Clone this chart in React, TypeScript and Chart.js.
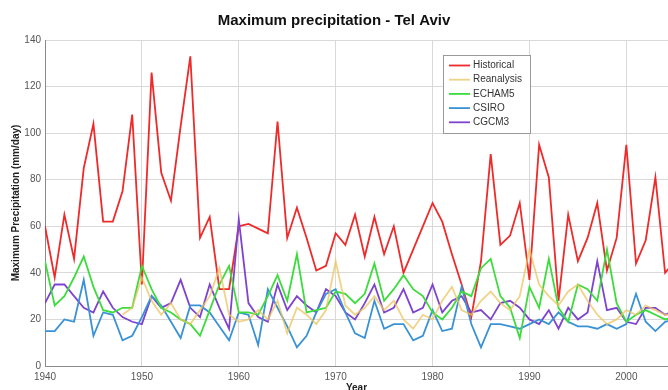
import React, { useEffect, useRef } from 'react';
import { Chart, registerables } from 'chart.js';

Chart.register(...registerables);

const years = [
  1940, 1941, 1942, 1943, 1944, 1945, 1946, 1947, 1948, 1949,
  1950, 1951, 1952, 1953, 1954, 1955, 1956, 1957, 1958, 1959,
  1960, 1961, 1962, 1963, 1964, 1965, 1966, 1967, 1968, 1969,
  1970, 1971, 1972, 1973, 1974, 1975, 1976, 1977, 1978, 1979,
  1980, 1981, 1982, 1983, 1984, 1985, 1986, 1987, 1988, 1989,
  1990, 1991, 1992, 1993, 1994, 1995, 1996, 1997, 1998, 1999,
  2000, 2001, 2002, 2003, 2004, 2005,
];

const historical = [
  60, 38, 65, 46, 85, 104, 62, 62, 75, 108,
  35, 126, 83, 71, 103, 133, 55, 64, 33, 33,
  60, 61, 59, 57, 105, 55, 68, 55, 41, 43,
  57, 52, 65, 47, 64, 48, 60, 40, 50, 60,
  70, 62, 48, 35, 21, 45, 91, 52, 56, 70,
  37, 95, 81, 28, 65, 45, 55, 70, 41, 55,
  95, 44, 54, 81, 40, 45,
];

const reanalysis = [
  null, null, null, null, null, null, null, null, 22, 25,
  38, 28, 22, 27, 20, 18, 24, 30, 42, 22,
  19, 20, 24, 20, 28, 14, 25, 22, 18, 24,
  45, 26, 22, 25, 30, 24, 28, 20, 16, 22,
  20, 28, 34, 24, 22, 28, 32, 27, 24, 30,
  50, 35, 30, 26, 32, 35, 28, 22, 18, 20,
  24, 22, 26, 24, 22, 22,
];

const echam5 = [
  45, 26, 30, 38, 47, 34, 24, 23, 25, 25,
  43, 33, 25, 23, 20, 18, 13, 24, 35, 43,
  23, 23, 22, 30, 39, 28, 48, 23, 24, 25,
  32, 31, 27, 31, 44, 28, 33, 39, 33, 30,
  23, 20, 25, 32, 30, 42, 46, 30, 25, 12,
  34, 25, 46, 25, 19, 35, 33, 28, 50, 27,
  19, 22, 24, 22, 20, 21,
];

const csiro = [
  15, 15, 20, 19, 37, 13, 23, 22, 11, 13,
  21, 30, 26, 19, 12, 26, 26, 23, 17, 11,
  23, 22, 9, 33, 25, 17, 8, 13, 23, 31,
  33, 23, 14, 12, 28, 16, 18, 18, 11, 13,
  24, 15, 16, 34, 18, 8, 18, 18, 17, 16,
  18, 20, 18, 23, 19, 17, 17, 16, 18, 16,
  18, 31, 19, 15, 19, 20,
];

const cgcm3 = [
  27, 35, 35, 30, 25, 23, 32, 25, 21, 19,
  18, 30, 25, 27, 37, 25, 21, 35, 25, 16,
  63, 27, 21, 19, 35, 24, 30, 26, 23, 33,
  30, 23, 20, 27, 35, 23, 25, 33, 23, 25,
  35, 23, 28, 30, 23, 24, 20, 27, 28, 25,
  20, 18, 24, 16, 25, 20, 23, 45, 24, 25,
  19, 18, 25, 25, 22, 24,
];

const seriesNames = ['Historical', 'Reanalysis', 'ECHAM5', 'CSIRO', 'CGCM3'];
const seriesColors = ['#ee2a2a', 'rgba(236, 196, 96, 0.75)', '#3ddc3d', '#3a92d6', '#7e44d0'];
const seriesValues = [historical, reanalysis, echam5, csiro, cgcm3];

const xTicks = [1940, 1950, 1960, 1970, 1980, 1990, 2000];
const yTicks = [0, 20, 40, 60, 80, 100, 120, 140];

const boxLegend = {
  id: 'boxLegend',
  afterDraw(chart: any) {
    const { ctx, chartArea } = chart;
    const x0 = chartArea.left + 398;
    const y0 = chartArea.top + 15;
    const w = 87;
    const h = 78;
    ctx.save();
    ctx.fillStyle = '#ffffff';
    ctx.fillRect(x0, y0, w, h);
    ctx.strokeStyle = '#9a9a9a';
    ctx.lineWidth = 1;
    ctx.strokeRect(x0 + 0.5, y0 + 0.5, w, h);
    ctx.font = '10px "Liberation Sans", Arial, sans-serif';
    ctx.textBaseline = 'middle';
    seriesNames.forEach((name, i) => {
      const yy = y0 + 10.5 + i * 14.2;
      ctx.strokeStyle = seriesColors[i];
      ctx.lineWidth = 1.8;
      ctx.beginPath();
      ctx.moveTo(x0 + 6, yy);
      ctx.lineTo(x0 + 27, yy);
      ctx.stroke();
      ctx.fillStyle = '#333333';
      ctx.fillText(name, x0 + 30, yy);
    });
    ctx.restore();
  },
};

export default function App() {
  const ref = useRef<HTMLCanvasElement | null>(null);

  useEffect(() => {
    if (!ref.current) return;
    const datasets = seriesNames.map((name, i) => ({
      label: name,
      data: years.map((yr, j) => ({ x: yr, y: seriesValues[i][j] })),
      borderColor: seriesColors[i],
      backgroundColor: seriesColors[i],
      borderWidth: 1.8,
      pointRadius: 0,
      tension: 0,
      spanGaps: false,
      order: i === 0 ? 5 : i,
    }));

    const chart = new Chart(ref.current, {
      type: 'line',
      data: { datasets },
      plugins: [boxLegend],
      options: {
        animation: false,
        responsive: false,
        layout: { padding: { top: 0, right: 0, left: 0, bottom: 0 } },
        plugins: {
          legend: { display: false },
          tooltip: { enabled: false },
          title: {
            display: true,
            text: 'Maximum precipitation - Tel Aviv',
            color: '#111111',
            font: { family: '"Liberation Sans", Arial, sans-serif', size: 15, weight: 'bold' },
            padding: { top: 12, bottom: 10 },
          },
        },
        scales: {
          x: {
            type: 'linear',
            min: 1940,
            max: 2004.3,
            afterBuildTicks: (s: any) => {
              s.ticks = xTicks.map((v) => ({ value: v }));
            },
            afterFit: (s: any) => {
              s.height = 24;
            },
            grid: { color: '#d9d9d9', lineWidth: 1, drawTicks: false },
            border: { color: '#8a8a8a', width: 1 },
            ticks: {
              color: '#555555',
              padding: 5,
              maxRotation: 0,
              font: { family: '"Liberation Sans", Arial, sans-serif', size: 10 },
              callback: (v: any) => String(v),
            },
            title: {
              display: true,
              text: 'Year',
              color: '#222222',
              font: { family: '"Liberation Sans", Arial, sans-serif', size: 10, weight: 'bold' },
              padding: { top: 0, bottom: -4 },
            },
          },
          y: {
            type: 'linear',
            min: 0,
            max: 140,
            afterBuildTicks: (s: any) => {
              s.ticks = yTicks.map((v) => ({ value: v }));
            },
            afterFit: (s: any) => {
              s.width = 45;
            },
            grid: { color: '#d9d9d9', lineWidth: 1, drawTicks: false },
            border: { color: '#8a8a8a', width: 1 },
            ticks: {
              color: '#555555',
              padding: 4,
              font: { family: '"Liberation Sans", Arial, sans-serif', size: 10 },
            },
            title: {
              display: true,
              text: 'Maximum Precipitation (mm/day)',
              color: '#222222',
              font: { family: '"Liberation Sans", Arial, sans-serif', size: 10, weight: 'bold' },
              padding: { top: 10, bottom: 0 },
            },
          },
        },
      },
    } as any);
    return () => chart.destroy();
  }, []);

  return (
    <div style={{ position: 'fixed', left: 0, top: 0, width: 668, height: 390, background: '#ffffff' }}>
      <canvas ref={ref} width={668} height={390} style={{ display: 'block', width: 668, height: 390 }} />
    </div>
  );
}
